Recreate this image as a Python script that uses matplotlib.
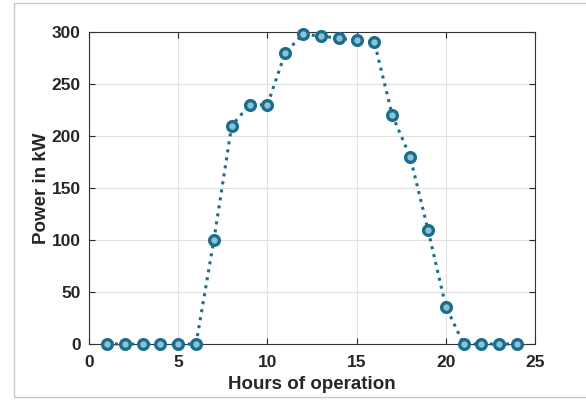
import matplotlib
matplotlib.use("Agg")
import matplotlib.pyplot as plt
from matplotlib.patches import Rectangle

hours = list(range(1, 25))
power_kw = [0, 0, 0, 0, 0, 0, 100, 210, 230, 230, 280, 298,
            296, 294, 292, 290, 220, 180, 110, 36, 0, 0, 0, 0]
x_ticks = [0, 5, 10, 15, 20, 25]
y_ticks = [0, 50, 100, 150, 200, 250, 300]

plt.rcParams['font.family'] = ['Liberation Sans', 'DejaVu Sans']

fig = plt.figure(figsize=(5.86, 4.0), dpi=100)
ax = fig.add_axes([89/586, 1-344/400, (535-89)/586, (344-32)/400])

color = '#1c6d8c'
ax.plot(hours, power_kw, linestyle=':', linewidth=2.2, color=color,
        marker='o', markersize=7, markeredgewidth=2.4,
        markeredgecolor=color, markerfacecolor='#8cc3d4', zorder=3,
        clip_on=False)

ax.set_xlim(0, 25)
ax.set_ylim(0, 300)
ax.set_xticks(x_ticks)
ax.set_yticks(y_ticks)
ax.grid(True, color='#e0e0e0', linewidth=0.8)
ax.set_axisbelow(True)
for s in ax.spines.values():
    s.set_color('#333333')
    s.set_linewidth(0.8)
ax.tick_params(direction='in', length=4, width=0.8, colors='#262626',
               labelsize=12.5, top=True, right=True)
ax.tick_params(axis='x', pad=8)
ax.tick_params(axis='y', pad=6)
for lbl in ax.get_xticklabels() + ax.get_yticklabels():
    lbl.set_fontweight('bold')
ax.set_xlabel('Hours of operation', fontsize=13.5, fontweight='bold',
              color='#262626', labelpad=4)
ax.set_ylabel('Power in kW', fontsize=13.5, fontweight='bold',
              color='#262626', labelpad=1)

fig.patches.append(Rectangle((14/586, 3/400), 1.0, 394/400,
                             transform=fig.transFigure, fill=False,
                             edgecolor='#c8c8c8', linewidth=1.0))

fig.savefig('out.png', dpi=100)
